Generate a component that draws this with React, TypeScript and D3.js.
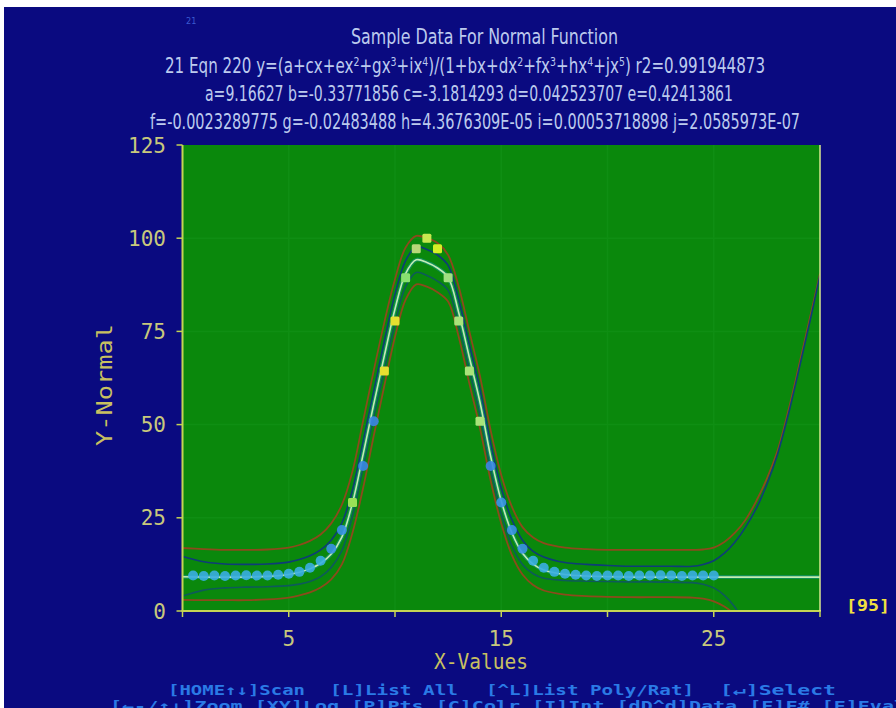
import React from "react";
import * as d3 from "d3";

const TITLE = "Sample Data For Normal Function";
const COEF_LINE_1 = "a=9.16627 b=-0.33771856 c=-3.1814293 d=0.042523707 e=0.42413861";
const COEF_LINE_2 = "f=-0.0023289775 g=-0.02483488 h=4.3676309E-05 i=0.00053718898 j=2.0585973E-07";
const X_LABEL = "X-Values";
const Y_LABEL = "Y-Normal";
const X_TICKS = [0, 5, 10, 15, 20, 25, 30];
const X_TICK_LABELS = [5, 15, 25];
const Y_TICKS = [0, 25, 50, 75, 100, 125];
const MENU_1 = ["[HOME↑↓]Scan", "[L]List All", "[^L]List Poly/Rat]", "[↵]Select"];
const MENU_2 = "[←-/↑↓]Zoom [XY]Log [P]Pts [C]Colr [I]Int [dD^d]Data [F]F# [E]Eval";

const X_POINTS = [
  0.5, 1, 1.5, 2, 2.5, 3, 3.5, 4, 4.5, 5, 5.5, 6, 6.5, 7, 7.5, 8, 8.5, 9, 9.5, 10,
  10.5, 11, 11.5, 12, 12.5, 13, 13.5, 14, 14.5, 15, 15.5, 16, 16.5, 17, 17.5, 18,
  18.5, 19, 19.5, 20, 20.5, 21, 21.5, 22, 22.5, 23, 23.5, 24, 24.5, 25,
];
const Y_POINTS = [
  9.5, 9.4, 9.5, 9.4, 9.5, 9.6, 9.5, 9.5, 9.7, 10.0, 10.5, 11.6, 13.5, 16.7, 21.7,
  29.1, 38.9, 50.9, 64.4, 77.8, 89.4, 97.2, 100, 97.2, 89.4, 77.8, 64.4, 50.9, 38.9,
  29.1, 21.7, 16.7, 13.5, 11.6, 10.5, 10.0, 9.7, 9.5, 9.4, 9.5, 9.5, 9.4, 9.5, 9.5,
  9.6, 9.5, 9.4, 9.5, 9.5, 9.5,
];

const X_CURVE = [
  0, 1, 2, 3, 4, 5, 5.5, 6, 6.5, 7, 7.5, 8, 8.5, 9, 9.5, 10, 10.5, 11, 11.5, 12, 12.5,
  13, 13.5, 14, 14.5, 15, 15.5, 16, 16.5, 17, 18, 19, 20, 21, 22, 23, 24, 24.5, 25,
  25.5, 26, 26.5, 27, 27.5, 28, 28.5, 29, 29.5, 30,
];
const FIT = [
  9.2, 9.1, 9.1, 9.1, 9.3,
  9.8, 10.4, 11.3, 12.8, 15.3, 19.8, 29, 42, 55.5, 68.5, 81, 90.5, 94.2, 93.5, 92,
  89.5, 80, 68, 56, 41.5, 29.5, 21, 15.5, 12.6, 11,
  9.8, 9.4, 9.2, 9.1, 9.1, 9.1, 9.1,
  9.1, 9.1, 9.1, 9.1, 9.1, 9.1, 9.1, 9.1, 9.1, 9.1, 9.1, 9.1,
];
const UPPER_OUTER = [
  16.9, 16.6, 16.4, 16.4, 16.5,
  17, 17.7, 18.8, 20.5, 23.5, 28.5, 37.5, 51, 64.5, 77.5, 89, 97.5, 100.6, 100, 98.7,
  95.5, 87, 75, 63, 48.5, 36.5, 28, 22.5, 19.7, 18.2,
  17, 16.6, 16.4, 16.4, 16.4, 16.4, 16.4,
  16.5, 17, 18.5, 21, 24.5, 29.5, 35.5, 43, 53.5, 65.5, 78, 90.5,
];
const LOWER_OUTER = [
  3.0, 2.9, 2.9, 2.9, 3.1,
  3.6, 4.2, 5, 6.3, 8.5, 12.5, 21, 33, 47, 60.5, 73.5, 83.5, 87.6, 87, 85.5,
  83, 73.5, 61, 49, 35, 23.5, 15, 9.8, 7, 5.5,
  4.4, 4, 3.8, 3.7, 3.7, 3.7, 3.6,
  3.3, 2.6, 1.2, -1, -4, -8, -13, -19, -26, -34, -43, -53,
];
const UPPER_INNER = [
  14.6, 13.2, 12.6, 12.5, 12.6,
  13.1, 13.8, 14.8, 16.4, 19, 23.6, 32.5, 45.5, 59, 72.5, 85, 94, 97.7, 97, 95.5,
  92.7, 83.5, 71.5, 59.5, 45, 33, 24.5, 19, 16, 14.5,
  13, 12.5, 12.2, 12, 12, 12, 12,
  12.5, 13.5, 15.5, 18.5, 22.5, 27.5, 34, 42, 52.5, 64.5, 77, 90,
];
const LOWER_INNER = [
  4, 5.6, 6.2, 6.4, 6.5,
  6.8, 7.2, 7.9, 9.2, 11.7, 16.2, 25.5, 38.5, 52, 64.5, 77, 87, 90.8, 90, 88.5,
  86, 76.5, 64.5, 52.5, 38, 26, 17.5, 12.5, 10, 8.8,
  8.2, 8, 7.9, 7.8, 7.8, 7.7, 7.6,
  7.2, 6.2, 4.2, 1, -4, -10, -17, -25, -34, -44, -55, -67,
];

const W = 896;
const H = 708;
const PLOT = { left: 182.5, right: 820, top: 145, bottom: 611 };

const BLUE_BG = "#0a0a80";
const GREEN = "#0a880c";
const GRID = "#0f8e13";
const AXIS = "#c4d454";
const TICK_TXT = "#c8c87c";
const TITLE_C = "#bccaee";

function pointStyle(x: number, y: number) {
  if (y < 14) return { c: "#3aaee2", sq: false };
  if (y < 26) return { c: "#3a92e6", sq: false };
  if (y < 31) return x < 11.5 ? { c: "#9ae056", sq: true } : { c: "#3a96e6", sq: false };
  if (y < 45) return { c: "#3a86e6", sq: false };
  if (y < 56) return x < 11.5 ? { c: "#3a86e6", sq: false } : { c: "#a8e47a", sq: true };
  if (y < 85) return x < 11.5 ? { c: "#e6e030", sq: true } : { c: "#a8e47a", sq: true };
  if (x < 10.8) return { c: "#88e070", sq: true };
  if (x < 11.2) return { c: "#b8d878", sq: true };
  if (x < 11.8) return { c: "#c8e850", sq: true };
  if (x < 12.2) return { c: "#d4f026", sq: true };
  return { c: "#a0e080", sq: true };
}

export default function App() {
  const x = d3.scaleLinear().domain([0, 30]).range([PLOT.left, PLOT.right]);
  const y = d3.scaleLinear().domain([0, 125]).range([PLOT.bottom, PLOT.top]);
  const mk = (ys: number[]) =>
    d3
      .line<number>()
      .x((_, i) => x(X_CURVE[i]))
      .y((d) => y(d))
      .curve(d3.curveCatmullRom.alpha(0.5))(ys) as string;

  const mono = "'DejaVu Sans Mono', 'Liberation Mono', monospace";
  const narrow = "'Liberation Sans Narrow', 'DejaVu Sans Condensed', 'Roboto Condensed', 'Open Sans', sans-serif";
  const sup = (s: string) => (
    <tspan baselineShift="super" fontSize="13">{s}</tspan>
  );

  return (
    <svg
      width={W}
      height={H}
      style={{ position: "absolute", left: 0, top: 0, display: "block" }}
    >
      <rect x={0} y={0} width={W} height={H} fill="#ffffff" />
      <rect x={4} y={7} width={W - 4} height={H - 7} fill={BLUE_BG} />
      <defs>
        <clipPath id="plotclip">
          <rect x={PLOT.left} y={PLOT.top} width={PLOT.right - PLOT.left} height={PLOT.bottom - PLOT.top} />
        </clipPath>
      </defs>

      <text x={186} y={24} fontSize={9} fill="#3a5ad0" fontFamily={narrow}>21</text>

      {/* titles */}
      <text x={351} y={44} fontSize={21} fill={TITLE_C} fontFamily={narrow} textLength={267} lengthAdjust="spacingAndGlyphs">
        {TITLE}
      </text>
      <text x={165} y={73} fontSize={21} fill={TITLE_C} fontFamily={narrow} textLength={600} lengthAdjust="spacingAndGlyphs">
        21 Eqn 220 y=(a+cx+ex{sup("2")}+gx{sup("3")}+ix{sup("4")})/(1+bx+dx{sup("2")}+fx{sup("3")}+hx{sup("4")}+jx{sup("5")}) r2=0.991944873
      </text>
      <text x={205} y={101} fontSize={21} fill={TITLE_C} fontFamily={narrow} textLength={528} lengthAdjust="spacingAndGlyphs">
        {COEF_LINE_1}
      </text>
      <text x={150} y={129} fontSize={21} fill={TITLE_C} fontFamily={narrow} textLength={650} lengthAdjust="spacingAndGlyphs">
        {COEF_LINE_2}
      </text>

      {/* plot background */}
      <rect x={PLOT.left} y={PLOT.top} width={PLOT.right - PLOT.left} height={PLOT.bottom - PLOT.top} fill={GREEN} />
      {X_TICKS.slice(1, -1).map((t) => (
        <line key={"gx" + t} x1={x(t)} x2={x(t)} y1={PLOT.top} y2={PLOT.bottom} stroke={GRID} strokeWidth={1.5} />
      ))}
      {Y_TICKS.slice(1, -1).map((t) => (
        <line key={"gy" + t} x1={PLOT.left} x2={PLOT.right} y1={y(t)} y2={y(t)} stroke={GRID} strokeWidth={1.5} />
      ))}

      <g clipPath="url(#plotclip)" fill="none">
        <path d={mk(UPPER_OUTER)} stroke="#8c4a1c" strokeWidth={1.8} />
        <path d={mk(LOWER_OUTER)} stroke="#8c4a1c" strokeWidth={1.8} />
        <path d={mk(UPPER_INNER)} stroke="#0e3c78" strokeWidth={1.6} />
        <path d={mk(LOWER_INNER)} stroke="#0e5a5a" strokeWidth={1.6} />
        <path d={mk(FIT)} stroke="#1a9ab0" strokeWidth={4} strokeOpacity={0.45} />
        <path d={mk(FIT)} stroke="#c4ecb4" strokeWidth={1.6} />
        {X_POINTS.map((px, i) => {
          const st = pointStyle(px, Y_POINTS[i]);
          const cx = x(px);
          const cy = y(Y_POINTS[i]);
          return st.sq ? (
            <rect key={i} x={cx - 4.5} y={cy - 4.5} width={9} height={9} rx={1.5} fill={st.c} />
          ) : (
            <circle key={i} cx={cx} cy={cy} r={5} fill={st.c} fillOpacity={0.9} />
          );
        })}
      </g>

      {/* axes */}
      <line x1={PLOT.left} x2={PLOT.left} y1={PLOT.top} y2={PLOT.bottom} stroke={AXIS} strokeWidth={2} />
      <line x1={PLOT.left - 1} x2={PLOT.right + 1} y1={PLOT.bottom} y2={PLOT.bottom} stroke={AXIS} strokeWidth={2} />
      <line x1={PLOT.right} x2={PLOT.right} y1={PLOT.top} y2={PLOT.bottom} stroke="#d8e890" strokeWidth={1.5} />
      {Y_TICKS.map((t) => (
        <g key={"yt" + t}>
          <line x1={PLOT.left - 6} x2={PLOT.left} y1={y(t)} y2={y(t)} stroke={AXIS} strokeWidth={1.5} />
          <text x={166} y={y(t) + 7.5} fontSize={21} fill={TICK_TXT} textAnchor="end" fontFamily={mono}>
            {t}
          </text>
        </g>
      ))}
      {X_TICKS.map((t) => (
        <line key={"xt" + t} x1={x(t)} x2={x(t)} y1={PLOT.bottom} y2={PLOT.bottom + 6} stroke={AXIS} strokeWidth={1.5} />
      ))}
      {X_TICK_LABELS.map((t) => (
        <text key={"xl" + t} x={x(t)} y={646} fontSize={21} fill={TICK_TXT} textAnchor="middle" fontFamily={mono}>
          {t}
        </text>
      ))}
      <text x={481} y={669} fontSize={22} fill="#c8c060" textAnchor="middle" fontFamily={mono} textLength={94} lengthAdjust="spacingAndGlyphs">
        {X_LABEL}
      </text>
      <text
        transform="translate(112,385) rotate(-90)"
        fontSize={22}
        fill="#c8c060"
        textAnchor="middle"
        fontFamily={mono}
        textLength={122}
        lengthAdjust="spacingAndGlyphs"
      >
        {Y_LABEL}
      </text>

      <text x={846} y={611} fontSize={15} fontWeight="bold" fill="#f0e040" fontFamily={mono} textLength={44} lengthAdjust="spacingAndGlyphs">
        [95]
      </text>

      {/* menu */}
      {(() => {
        const pos = [
          [168, 137],
          [330, 128],
          [486, 208],
          [720, 116],
        ];
        return MENU_1.map((s, i) => (
          <text key={"m" + i} x={pos[i][0]} y={695} fontSize={14} fontWeight="bold" fill="#2a7ae6" fontFamily={mono} textLength={pos[i][1]} lengthAdjust="spacingAndGlyphs">
            {s}
          </text>
        ));
      })()}
      <text x={110} y={711} fontSize={14} fontWeight="bold" fill="#2a7ae6" fontFamily={mono} textLength={796} lengthAdjust="spacingAndGlyphs">
        {MENU_2}
      </text>
    </svg>
  );
}
